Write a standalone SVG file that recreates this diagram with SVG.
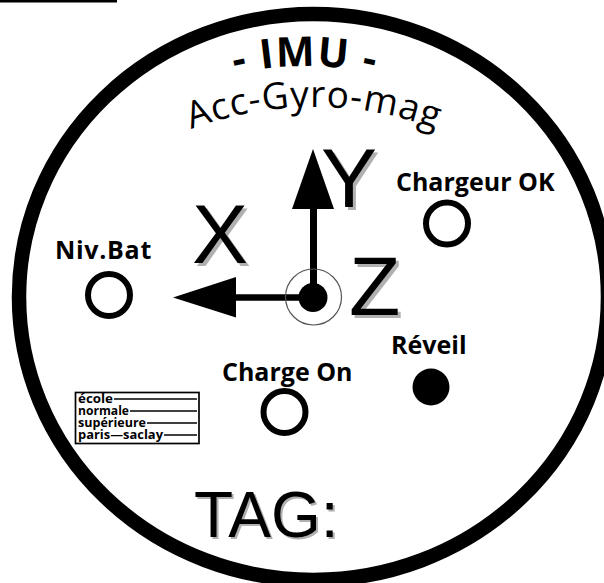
<svg xmlns="http://www.w3.org/2000/svg" width="604" height="583" viewBox="0 0 604 583">
<style>
.lbl{font-family:"Open Sans","Noto Sans",sans-serif;font-weight:700;font-size:25px;fill:#000}
.big{font-family:"Liberation Sans",Arial,sans-serif;fill:#000}
.shd{font-family:"Liberation Sans",Arial,sans-serif;fill:#b0b0b0}
.led{fill:#fff;stroke:#000;stroke-width:6}
.ens{font-family:"Open Sans","Noto Sans",sans-serif;font-weight:700;font-size:11.5px;fill:#000}
.ln{stroke:#000;stroke-width:1.4}
</style>
<defs>
<path id="arc1" d="M 5 366 A 300 300 0 0 1 605 366"/>
<path id="arc2" d="M -36 457 A 350 350 0 0 1 664 457"/>
</defs>
<rect width="604" height="583" fill="#fff"/>
<rect id="rule" x="0" y="0" width="117" height="2.500" fill="#000"/>
<ellipse id="outline" cx="313.500" cy="297" rx="294.500" ry="283" fill="none" stroke="#000" stroke-width="14.500"/>
<g id="title">
<text font-family="'Open Sans','Noto Sans',sans-serif" font-weight="700" font-size="41" letter-spacing="1.500" text-anchor="middle"><textPath href="#arc1" startOffset="50%">- IMU -</textPath></text>
<text font-family="'Open Sans','Noto Sans',sans-serif" font-size="37" letter-spacing="0.900" text-anchor="middle"><textPath href="#arc2" startOffset="50%">Acc-Gyro-mag</textPath></text>
</g>
<g id="connectors">
<line x1="313" y1="297.500" x2="236" y2="297.500" stroke="#000" stroke-width="6.500"/>
<polygon points="173,297.500 236,277 236,317.500" fill="#000"/>
<line x1="313.500" y1="297" x2="313.500" y2="208" stroke="#000" stroke-width="7"/>
<polygon points="313,149 292,209 334,209" fill="#000"/>
</g>
<g id="origin">
<circle cx="313.500" cy="297" r="28" fill="none" stroke="#555" stroke-width="1.200"/>
<circle cx="313" cy="297.500" r="14.500" fill="#000"/>
</g>
<g id="axis-x"><text class="shd" x="195" y="266" font-size="84">X</text><text class="big" x="192" y="263" font-size="84">X</text></g>
<g id="axis-y"><text class="shd" x="324" y="210" font-size="84">Y</text><text class="big" x="321" y="207" font-size="84">Y</text></g>
<g id="axis-z"><text class="shd" x="352" y="318" font-size="84">Z</text><text class="big" x="349" y="315" font-size="84">Z</text></g>
<g id="charger-ok"><text class="lbl" x="396" y="191">Chargeur OK</text><circle class="led" cx="447" cy="223.500" r="21"/></g>
<g id="niv-bat"><text class="lbl" x="55" y="259" letter-spacing="0.700">Niv.Bat</text><circle class="led" cx="109" cy="295" r="21"/></g>
<g id="charge-on"><text class="lbl" x="222" y="381">Charge On</text><circle class="led" cx="284.500" cy="412" r="21"/></g>
<g id="reveil"><text class="lbl" x="391" y="354">Réveil</text><circle cx="431" cy="387" r="18.500" fill="#000"/></g>
<g id="logo">
<rect x="75.500" y="392.500" width="123.500" height="51" fill="#fff" stroke="#000" stroke-width="1.700"/>
<text class="ens" x="78" y="403" textLength="35" lengthAdjust="spacingAndGlyphs">école</text><line class="ln" x1="114" y1="399" x2="197" y2="399"/>
<text class="ens" x="78" y="415" textLength="51" lengthAdjust="spacingAndGlyphs">normale</text><line class="ln" x1="130" y1="411" x2="197" y2="411"/>
<text class="ens" x="78" y="427" textLength="68" lengthAdjust="spacingAndGlyphs">supérieure</text><line class="ln" x1="147" y1="423" x2="197" y2="423"/>
<text class="ens" x="78" y="439" textLength="85" lengthAdjust="spacingAndGlyphs">paris—saclay</text><line class="ln" x1="164" y1="435" x2="197" y2="435"/>
</g>
<g id="tag"><text class="shd" x="196" y="539" font-size="64">TAG:</text><text class="big" x="194" y="537" font-size="64">TAG:</text></g>
</svg>
